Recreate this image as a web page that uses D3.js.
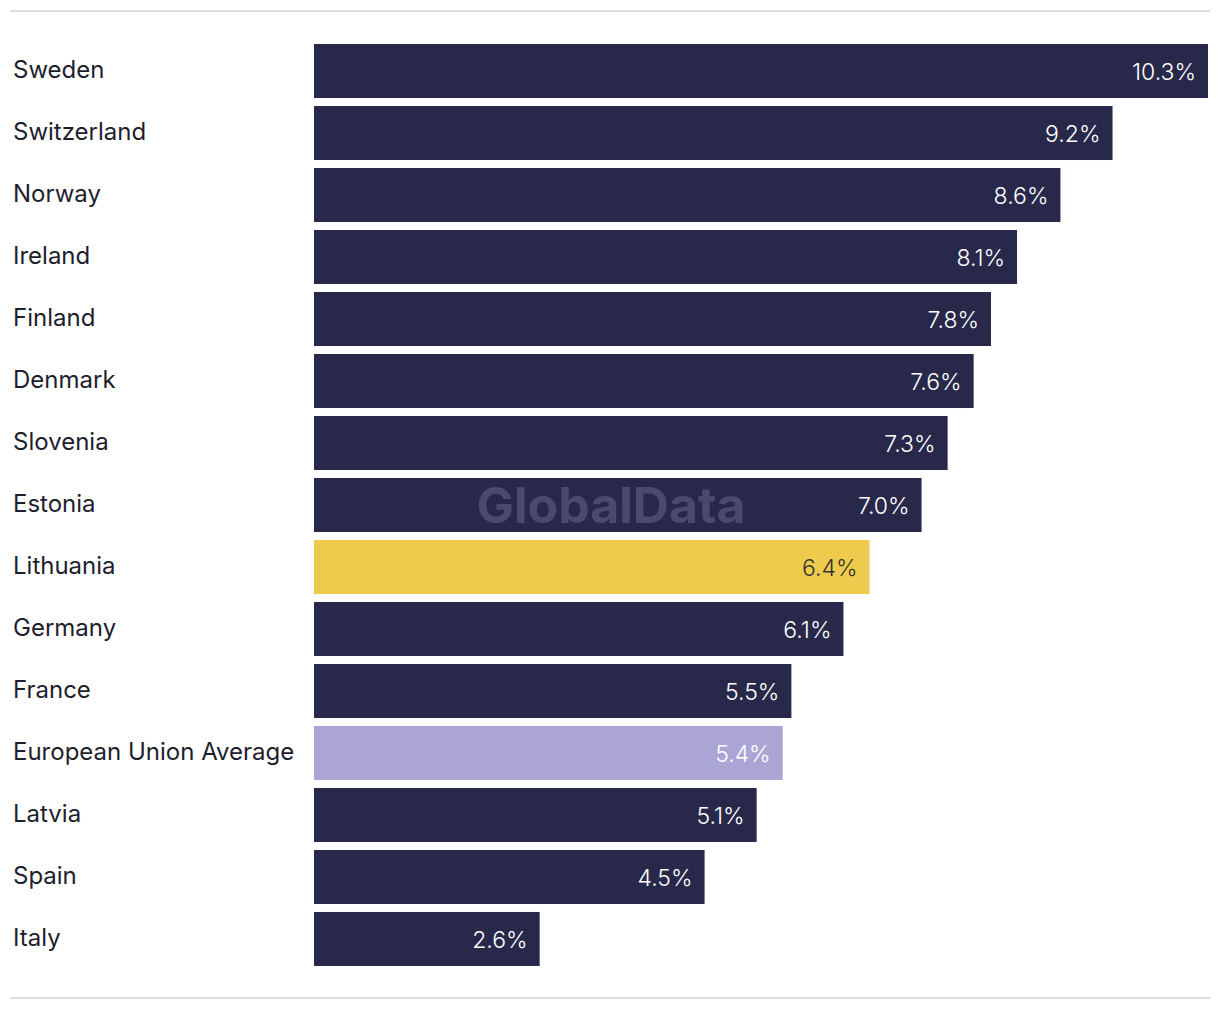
<!DOCTYPE html>
<html><head><meta charset="utf-8">
<script src="https://cdn.jsdelivr.net/npm/d3@7"></script>
<style>body{margin:0;background:#fff;} svg{display:block;}</style>
</head><body>
<script>
const countries = ["Sweden","Switzerland","Norway","Ireland","Finland","Denmark","Slovenia","Estonia","Lithuania","Germany","France","European Union Average","Latvia","Spain","Italy"];
const values = [10.3,9.2,8.6,8.1,7.8,7.6,7.3,7.0,6.4,6.1,5.5,5.4,5.1,4.5,2.6];
const barColors = ["#28284b","#28284b","#28284b","#28284b","#28284b","#28284b","#28284b","#28284b","#efcb4d","#28284b","#28284b","#aba5d6","#28284b","#28284b","#28284b"];
const labelColors = ["#fff","#fff","#fff","#fff","#fff","#fff","#fff","#fff","#333333","#fff","#fff","#fff","#fff","#fff","#fff"];

const W=1220,H=1010;
const svg=d3.select("body").append("svg").attr("width",W).attr("height",H);
const font="Inter, 'Noto Sans', sans-serif";

svg.append("line").attr("x1",10).attr("x2",1210).attr("y1",11).attr("y2",11).attr("stroke","#dcdcdc").attr("stroke-width",2);
svg.append("line").attr("x1",10).attr("x2",1210).attr("y1",998).attr("y2",998).attr("stroke","#dcdcdc").attr("stroke-width",2);

const x=d3.scaleLinear().domain([0,10.3]).range([314,1208]);
const y=d3.scaleBand().domain(countries).range([40,970]).paddingInner(8/62).paddingOuter(0.065);

const data=countries.map((c,i)=>({c,v:values[i],col:barColors[i],lc:labelColors[i]}));

svg.selectAll("rect.bar").data(data).join("rect").attr("class","bar")
  .attr("x",x(0)).attr("y",d=>y(d.c)).attr("width",d=>x(d.v)-x(0)).attr("height",y.bandwidth()).attr("fill",d=>d.col);

svg.selectAll("text.cat").data(data).join("text").attr("class","cat")
  .attr("x",13).attr("y",d=>y(d.c)+y.bandwidth()/2-1).attr("dy","0.35em")
  .attr("font-family",font).attr("font-size",24).attr("fill","#1e1e2d").text(d=>d.c);

svg.selectAll("text.val").data(data).join("text").attr("class","val")
  .attr("x",d=>x(d.v)-12).attr("y",d=>y(d.c)+y.bandwidth()/2+1).attr("dy","0.35em")
  .attr("text-anchor","end").attr("font-family",font).attr("font-size",23).attr("font-weight",300).attr("fill",d=>d.lc)
  .text(d=>d.v.toFixed(1)+"%");

svg.append("text").attr("x",611).attr("y",523).attr("text-anchor","middle")
  .attr("font-family",font).attr("font-weight",700).attr("font-size",50).attr("fill","#8a8aa8").attr("opacity",0.35)
  .text("GlobalData");
</script>
</body></html>
